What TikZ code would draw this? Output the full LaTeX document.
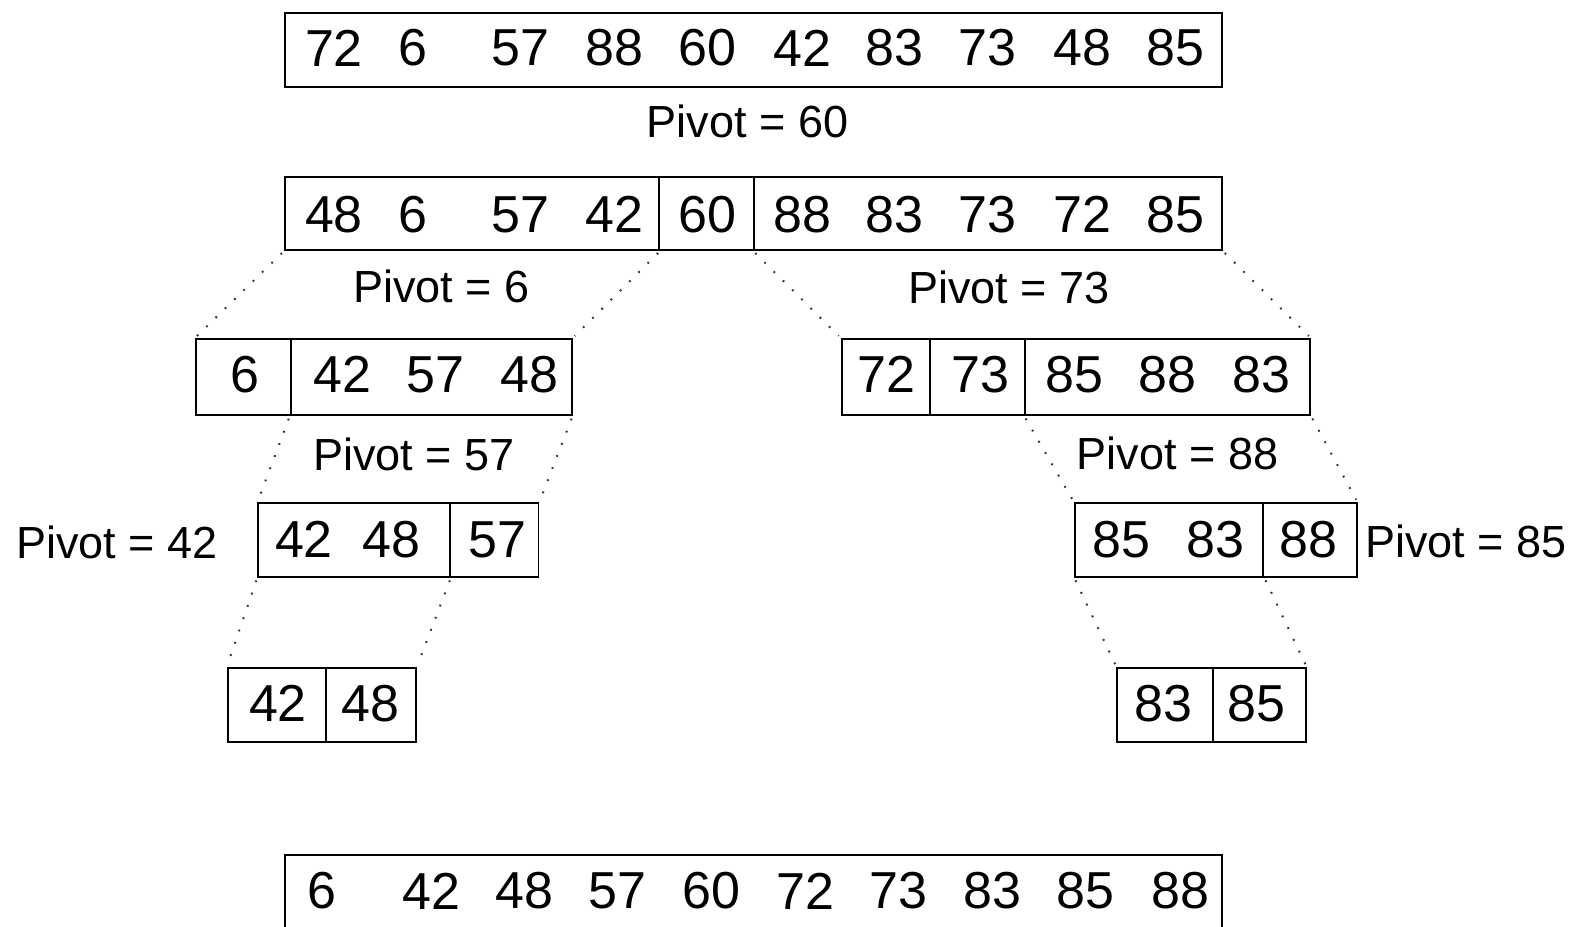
\documentclass[tikz,border=0pt]{standalone}
\usepackage{fontspec}
\setmainfont{Liberation Sans}
\usetikzlibrary{fit}
\tikzset{
  seg/.style={draw, line width=0.9pt, inner sep=0pt, fill=none},
  num/.style={inner sep=0pt, font=\fontsize{26}{30}\selectfont},
  piv/.style={inner sep=0pt, font=\fontsize{22.5}{27}\selectfont},
  link/.style={line width=1pt, black!80, dash pattern=on 0.9pt off 5.6pt, shorten <=1.5pt, shorten >=1.5pt}
}
\begin{document}
\begin{tikzpicture}[x=0.5pt, y=-0.5pt]
\clip (0,0) rectangle (1572,926);
\fill[white] (0,0) rectangle (1572,926);
% row 1
\node[seg, fit={(285,12.7) (1221.7,86.7)}] (r1) {};
\node[num] (n1a) at (334,48) {72};
\node[num] (n1b) at (413,48) {6};
\node[num] (n1c) at (520.8,48) {57};
\node[num] (n1d) at (614.5,48) {88};
\node[num] (n1e) at (707.5,48) {60};
\node[num] (n1f) at (802.5,48) {42};
\node[num] (n1g) at (894,48) {83};
\node[num] (n1h) at (987.5,48) {73};
\node[num] (n1i) at (1082.5,48) {48};
\node[num] (n1j) at (1175.8,48) {85};
\node[piv] (p60) at (747.5,121.6) {Pivot = 60};
% row 2
\node[seg, fit={(285,176.7) (659.3,250)}] (r2a) {};
\node[seg, fit={(659.3,176.7) (754,250)}] (r2b) {};
\node[seg, fit={(754,176.7) (1221.7,250)}] (r2c) {};
\node[num] (n2a) at (334,214.5) {48};
\node[num] (n2b) at (413,214.5) {6};
\node[num] (n2c) at (520.8,214.5) {57};
\node[num] (n2d) at (614.5,214.5) {42};
\node[num] (n2e) at (707.5,214.5) {60};
\node[num] (n2f) at (802.5,214.5) {88};
\node[num] (n2g) at (894,214.5) {83};
\node[num] (n2h) at (987.5,214.5) {73};
\node[num] (n2i) at (1082.5,214.5) {72};
\node[num] (n2j) at (1175.8,214.5) {85};
\node[piv] (p6) at (441.5,286.7) {Pivot = 6};
\node[piv] (p73) at (1009,287.5) {Pivot = 73};
% row 3 left
\node[seg, fit={(195.7,339) (290.7,415)}] (r3La) {};
\node[seg, fit={(290.7,339) (571.7,415)}] (r3Lb) {};
\node[num] (n3a) at (245,374.7) {6};
\node[num] (n3b) at (342.5,374.7) {42};
\node[num] (n3c) at (435.8,374.7) {57};
\node[num] (n3d) at (529,374.7) {48};
% row 3 right
\node[seg, fit={(841.7,339) (930,415)}] (r3Ra) {};
\node[seg, fit={(930,339) (1025,415)}] (r3Rb) {};
\node[seg, fit={(1025,339) (1310,415)}] (r3Rc) {};
\node[num] (n3e) at (886.7,374.7) {72};
\node[num] (n3f) at (980,374.7) {73};
\node[num] (n3g) at (1074,374.7) {85};
\node[num] (n3h) at (1167.5,374.7) {88};
\node[num] (n3i) at (1261.7,374.7) {83};
\node[piv] (p57) at (414,454) {Pivot = 57};
\node[piv] (p88) at (1177.5,453.5) {Pivot = 88};
% row 4 left
\node[seg, fit={(258.3,503.3) (450,576.7)}] (r4La) {};
\node[seg, fit={(450,503.3) (538.4,576.7)}] (r4Lb) {};
\node[num] (n4a) at (304,539.5) {42};
\node[num] (n4b) at (391.7,539.5) {48};
\node[num] (n4c) at (497,539.5) {57};
\node[piv] (p42) at (117,542.5) {Pivot = 42};
% row 4 right
\node[seg, fit={(1075,503.3) (1263.3,576.7)}] (r4Ra) {};
\node[seg, fit={(1263.3,503.3) (1356.7,576.7)}] (r4Rb) {};
\node[num] (n4d) at (1121,539.5) {85};
\node[num] (n4e) at (1215,539.5) {83};
\node[num] (n4f) at (1308,539.5) {88};
\node[piv] (p85) at (1466,541.7) {Pivot = 85};
% row 5
\node[seg, fit={(227.7,667.7) (325.7,741.7)}] (r5La) {};
\node[seg, fit={(325.7,667.7) (416,741.7)}] (r5Lb) {};
\node[num] (n5a) at (278,703.8) {42};
\node[num] (n5b) at (370.7,703.8) {48};
\node[seg, fit={(1117.3,667.7) (1212.7,741.7)}] (r5Ra) {};
\node[seg, fit={(1212.7,667.7) (1305.7,741.7)}] (r5Rb) {};
\node[num] (n5c) at (1163,703.8) {83};
\node[num] (n5d) at (1256.5,703.8) {85};
% bottom result
\node[seg, fit={(285,855) (1221.7,960)}] (bot) {};
\node[num] (b1) at (322,891) {6};
\node[num] (b2) at (431,891) {42};
\node[num] (b3) at (524,891) {48};
\node[num] (b4) at (617.6,891) {57};
\node[num] (b5) at (711,891) {60};
\node[num] (b6) at (805,891) {72};
\node[num] (b7) at (898,891) {73};
\node[num] (b8) at (992.6,891) {83};
\node[num] (b9) at (1085,891) {85};
\node[num] (b10) at (1180,891) {88};
% dotted links
\draw[link] (r2a.south west) -- (r3La.north west);
\draw[link] (r2a.south east) -- (r3Lb.north east);
\draw[link] (r2c.south west) -- (r3Ra.north west);
\draw[link] (r2c.south east) -- (r3Rc.north east);
\draw[link] (r3Lb.south west) -- (r4La.north west);
\draw[link] (r3Lb.south east) -- (r4Lb.north east);
\draw[link] (r3Rc.south west) -- (r4Ra.north west);
\draw[link] (r3Rc.south east) -- (r4Rb.north east);
\draw[link] (r4La.south west) -- (r5La.north west);
\draw[link] (r4La.south east) -- (r5Lb.north east);
\draw[link] (r4Ra.south west) -- (r5Ra.north west);
\draw[link] (r4Ra.south east) -- (r5Rb.north east);
\end{tikzpicture}
\end{document}
